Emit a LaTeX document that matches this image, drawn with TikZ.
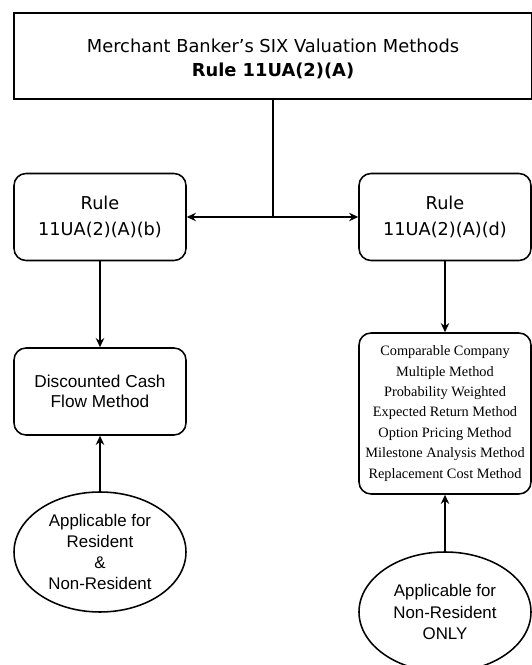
\documentclass[tikz,border=0pt]{standalone}
\usepackage{fontspec}
\setmainfont{DejaVu Sans}
\newfontfamily\helvfont{Liberation Sans}
\newfontfamily\timesfont{Liberation Serif}
\usetikzlibrary{arrows.meta,shapes.geometric}
\tikzset{
	line/.style={line width=2.2pt},
	arr/.style={line width=2.2pt,-{Stealth[length=13pt,width=12pt]}},
	rulebox/.style={draw,line width=2.2pt,rounded corners=0.6cm,minimum width=8.6cm,minimum height=4.35cm,align=center,font=\fontsize{25.2}{38}\selectfont},
	oval/.style={draw,ellipse,line width=2.2pt,inner sep=0pt,minimum width=8.6cm,minimum height=6cm,align=center,font=\helvfont\fontsize{24}{30}\selectfont},
}
\begin{document}
\begin{tikzpicture}
	\useasboundingbox (0,0) rectangle (26.55,33.25);
	\node[draw,line width=2.2pt,minimum width=25.9cm,minimum height=4.3cm,align=center,font=\fontsize{25.4}{34}\selectfont] (top) at (13.65,30.45) {\rule{0pt}{27.5pt}Merchant Banker's SIX Valuation Methods\\ \textbf{Rule 11UA(2)(A)}};
	\coordinate (jn) at (13.65,22.4);
	\node[rulebox] (ruleb) at (5,22.4) {Rule\\11UA(2)(A)(b)};
	\node[rulebox] (ruled) at (22.25,22.4) {Rule\\11UA(2)(A)(d)};
	\node[rulebox,font=\helvfont\fontsize{24.5}{28}\selectfont] (dcf) at (5,13.675) {Discounted Cash\\Flow Method};
	\node[rulebox,minimum height=8.05cm,font=\timesfont\fontsize{20.4}{29}\selectfont] (methods) at (22.25,12.575) {Comparable Company\\Multiple Method\\Probability Weighted\\Expected Return Method\\Option Pricing Method\\Milestone Analysis Method\\Replacement Cost Method};
	\node[oval] (resi) at (5,5.65) {Applicable for\\Resident\\\&\\Non-Resident};
	\node[oval] (nonres) at (22.25,2.65) {Applicable for\\Non-Resident\\ONLY};

	\draw [line] (top) -- (jn);
	\draw [arr] (jn) -- (ruleb);
	\draw [arr] (jn) -- (ruled);
	\draw [arr] (ruleb) -- (dcf);
	\draw [arr] (ruled) -- (methods);
	\draw [arr] (resi) -- (dcf);
	\draw [arr] (nonres) -- (methods);
\end{tikzpicture}
\end{document}
